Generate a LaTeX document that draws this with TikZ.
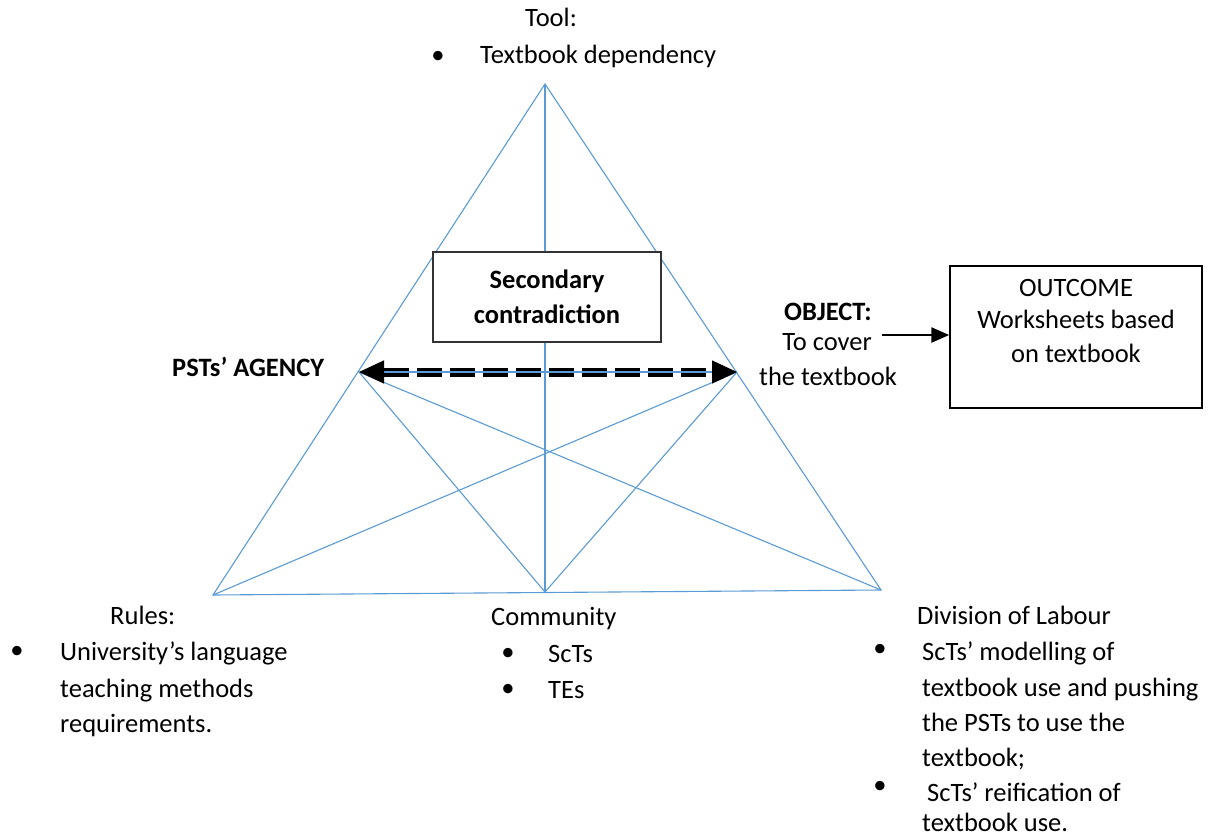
\documentclass[tikz,border=0pt]{standalone}
\usepackage{fontspec}
\setmainfont{Carlito}
\usetikzlibrary{arrows.meta}
\definecolor{edgeblue}{HTML}{5B9BD5}
\begin{document}
\begin{tikzpicture}[x=1pt,y=-1pt,
  edge/.style={draw=edgeblue,line width=1.1pt},
  txt/.style={font=\fontsize{26.5}{36}\selectfont,inner sep=0pt,anchor=base west},
  ctxt/.style={txt,anchor=base},
  btxt/.style={txt,font=\fontsize{26.5}{36}\selectfont\bfseries},
  bctxt/.style={btxt,anchor=base},
  bul/.style={font=\fontsize{26.5}{36}\selectfont,inner sep=0pt,anchor=center},
  bigtip/.tip={Triangle[length=25pt,width=23pt,color=black]}
]
\useasboundingbox (0,0) rectangle (1219,840);

% corners and midpoints of the activity triangle
\coordinate (A)  at (545,84);
\coordinate (BL) at (213,595);
\coordinate (BM) at (545,592);
\coordinate (BR) at (881,590);
\coordinate (LM) at (359,372);
\coordinate (RM) at (737,372);

% double dashed shaft of the contradiction arrow
\draw[black,line width=9pt,dash pattern=on 25pt off 8pt,shorten <=25pt,shorten >=25pt] (LM) -- (RM);
\draw[white,line width=2.2pt,shorten <=25pt,shorten >=25pt] (LM) -- (RM);

% triangle edges
\draw[edge] (A) -- (BL) -- (BR) -- cycle;
\draw[edge] (A) -- (BM);
\draw[edge] (LM) -- (BR);
\draw[edge] (RM) -- (BL);
\draw[edge] (LM) -- (BM) -- (RM);
\draw[edge,bigtip-bigtip] (LM) -- (RM);

% central box
\node[draw=black!80,line width=1.3pt,fill=white,minimum width=228pt,minimum height=90pt,
      align=center,inner sep=0pt,font=\fontsize{26.5}{35}\selectfont\bfseries]
      (sec) at (547,297) {Secondary\\contradiction};

% tool
\node[txt] (tool) at (525,27) {Tool:};
\node[bul] (toolb) at (438,57) {\textbullet};
\node[txt] (tool1) at (480,64) {Textbook dependency};

% subject
\node[btxt] (agency) at (172,376) {PSTs’ AGENCY};

% object
\node[bctxt] (obj) at (828,320) {OBJECT:};
\node[ctxt] (obj1) at (827,350) {To cover};
\node[ctxt] (obj2) at (828,385) {the textbook};

% outcome
\node[draw=black,line width=1.5pt,minimum width=252pt,minimum height=142pt,inner sep=0pt]
      (outcome) at (1076,337) {};
\node[ctxt] (out0) at (1076,296) {OUTCOME};
\node[ctxt] (out1) at (1076,328) {Worksheets based};
\node[ctxt] (out2) at (1076,362) {on textbook};
\coordinate (objout) at (882,335);
\draw[black,line width=2.5pt,-{Triangle[length=18pt,width=15pt]}] (objout) -- (objout -| outcome.west);

% rules
\node[txt] (rules) at (110,624) {Rules:};
\node[bul] (rulesb) at (17,652) {\textbullet};
\node[txt] (rules1) at (60,660) {University’s language};
\node[txt] (rules2) at (60,697) {teaching methods};
\node[txt] (rules3) at (60,732) {requirements.};

% community
\node[txt] (comm) at (491,625) {Community};
\node[bul] (commb1) at (508,654) {\textbullet};
\node[txt] (comm1) at (548,662) {ScTs};
\node[bul] (commb2) at (508,690) {\textbullet};
\node[txt] (comm2) at (548,698) {TEs};

% division of labour
\node[txt] (div) at (917,624) {Division of Labour};
\node[bul] (divb1) at (880,650) {\textbullet};
\node[txt] (div1) at (922,660) {ScTs’ modelling of};
\node[txt] (div2) at (922,696) {textbook use and pushing};
\node[txt] (div3) at (922,731) {the PSTs to use the};
\node[txt] (div4) at (922,766) {textbook;};
\node[bul] (divb2) at (880,787) {\textbullet};
\node[txt] (div5) at (927,801) {ScTs’ reification of};
\node[txt] (div6) at (922,831) {textbook use.};
\end{tikzpicture}
\end{document}
